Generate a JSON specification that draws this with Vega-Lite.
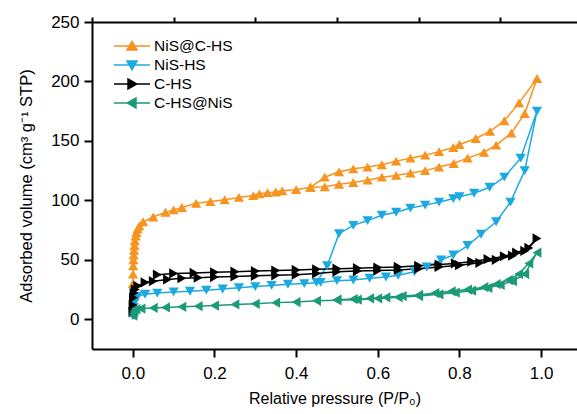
{
"$schema": "https://vega.github.io/schema/vega-lite/v6.json",
"width": 485, "height": 327,
"autosize": {"type": "none"},
"padding": {"left": 92, "top": 22, "right": 0, "bottom": 65},
"background": "white",
"config": {
 "view": {"stroke": null},
 "font": "Liberation Sans",
 "axis": {"grid": false, "domainColor": "black", "domainWidth": 2, "tickColor": "black", "tickWidth": 2, "labelColor": "black", "titleColor": "black", "labelFont": "Liberation Sans", "titleFont": "Liberation Sans", "labelFontSize": 17, "titleFontSize": 16, "titleFontWeight": "normal"}
},
"data": {"values": [
{"s":"NiS@C-HS","i":1,"P":0.0002,"V":30},{"s":"NiS@C-HS","i":2,"P":0.0005,"V":38},{"s":"NiS@C-HS","i":3,"P":0.001,"V":45},{"s":"NiS@C-HS","i":4,"P":0.0015,"V":50},{"s":"NiS@C-HS","i":5,"P":0.002,"V":54},{"s":"NiS@C-HS","i":6,"P":0.003,"V":58},{"s":"NiS@C-HS","i":7,"P":0.004,"V":62},{"s":"NiS@C-HS","i":8,"P":0.005,"V":66},{"s":"NiS@C-HS","i":9,"P":0.007,"V":70},{"s":"NiS@C-HS","i":10,"P":0.009,"V":73},{"s":"NiS@C-HS","i":11,"P":0.012,"V":76},{"s":"NiS@C-HS","i":12,"P":0.016,"V":78.5},{"s":"NiS@C-HS","i":13,"P":0.025,"V":82},{"s":"NiS@C-HS","i":14,"P":0.05,"V":86},{"s":"NiS@C-HS","i":15,"P":0.08,"V":90},{"s":"NiS@C-HS","i":16,"P":0.1,"V":92},{"s":"NiS@C-HS","i":17,"P":0.12,"V":94},{"s":"NiS@C-HS","i":18,"P":0.155,"V":97.5},{"s":"NiS@C-HS","i":19,"P":0.19,"V":99},{"s":"NiS@C-HS","i":20,"P":0.225,"V":100.5},{"s":"NiS@C-HS","i":21,"P":0.26,"V":102.5},{"s":"NiS@C-HS","i":22,"P":0.295,"V":104},{"s":"NiS@C-HS","i":23,"P":0.31,"V":105.5},{"s":"NiS@C-HS","i":24,"P":0.33,"V":106.5},{"s":"NiS@C-HS","i":25,"P":0.35,"V":107},{"s":"NiS@C-HS","i":26,"P":0.366,"V":108},{"s":"NiS@C-HS","i":27,"P":0.4,"V":109},{"s":"NiS@C-HS","i":28,"P":0.435,"V":111},{"s":"NiS@C-HS","i":29,"P":0.47,"V":111.5},{"s":"NiS@C-HS","i":30,"P":0.505,"V":113.5},{"s":"NiS@C-HS","i":31,"P":0.54,"V":115},{"s":"NiS@C-HS","i":32,"P":0.575,"V":117},{"s":"NiS@C-HS","i":33,"P":0.61,"V":119.5},{"s":"NiS@C-HS","i":34,"P":0.645,"V":121},{"s":"NiS@C-HS","i":35,"P":0.68,"V":123},{"s":"NiS@C-HS","i":36,"P":0.716,"V":125},{"s":"NiS@C-HS","i":37,"P":0.75,"V":128},{"s":"NiS@C-HS","i":38,"P":0.786,"V":131},{"s":"NiS@C-HS","i":39,"P":0.82,"V":135.5},{"s":"NiS@C-HS","i":40,"P":0.86,"V":140.5},{"s":"NiS@C-HS","i":41,"P":0.89,"V":146.5},{"s":"NiS@C-HS","i":42,"P":0.927,"V":156.5},{"s":"NiS@C-HS","i":43,"P":0.96,"V":173},{"s":"NiS@C-HS","i":44,"P":0.99,"V":202.5},{"s":"NiS@C-HS","i":45,"P":0.946,"V":182},{"s":"NiS@C-HS","i":46,"P":0.91,"V":167},{"s":"NiS@C-HS","i":47,"P":0.875,"V":158},{"s":"NiS@C-HS","i":48,"P":0.84,"V":152},{"s":"NiS@C-HS","i":49,"P":0.8,"V":147},{"s":"NiS@C-HS","i":50,"P":0.785,"V":144.5},{"s":"NiS@C-HS","i":51,"P":0.75,"V":141},{"s":"NiS@C-HS","i":52,"P":0.716,"V":138},{"s":"NiS@C-HS","i":53,"P":0.68,"V":135.5},{"s":"NiS@C-HS","i":54,"P":0.645,"V":133},{"s":"NiS@C-HS","i":55,"P":0.61,"V":130},{"s":"NiS@C-HS","i":56,"P":0.575,"V":128},{"s":"NiS@C-HS","i":57,"P":0.54,"V":126.5},{"s":"NiS@C-HS","i":58,"P":0.505,"V":124},{"s":"NiS@C-HS","i":59,"P":0.47,"V":119.5},{"s":"NiS@C-HS","i":60,"P":0.435,"V":111},
{"s":"NiS-HS","i":1,"P":0.0002,"V":3},{"s":"NiS-HS","i":2,"P":0.0008,"V":6},{"s":"NiS-HS","i":3,"P":0.002,"V":10},{"s":"NiS-HS","i":4,"P":0.004,"V":14},{"s":"NiS-HS","i":5,"P":0.007,"V":17},{"s":"NiS-HS","i":6,"P":0.012,"V":19.5},{"s":"NiS-HS","i":7,"P":0.03,"V":21},{"s":"NiS-HS","i":8,"P":0.06,"V":22},{"s":"NiS-HS","i":9,"P":0.1,"V":23},{"s":"NiS-HS","i":10,"P":0.14,"V":23.6},{"s":"NiS-HS","i":11,"P":0.18,"V":24.5},{"s":"NiS-HS","i":12,"P":0.22,"V":25.5},{"s":"NiS-HS","i":13,"P":0.26,"V":26.5},{"s":"NiS-HS","i":14,"P":0.3,"V":27.5},{"s":"NiS-HS","i":15,"P":0.34,"V":28.5},{"s":"NiS-HS","i":16,"P":0.38,"V":29.5},{"s":"NiS-HS","i":17,"P":0.42,"V":30},{"s":"NiS-HS","i":18,"P":0.46,"V":31},{"s":"NiS-HS","i":19,"P":0.5,"V":32.5},{"s":"NiS-HS","i":20,"P":0.54,"V":33},{"s":"NiS-HS","i":21,"P":0.58,"V":34.5},{"s":"NiS-HS","i":22,"P":0.62,"V":35.5},{"s":"NiS-HS","i":23,"P":0.65,"V":37},{"s":"NiS-HS","i":24,"P":0.69,"V":40},{"s":"NiS-HS","i":25,"P":0.72,"V":44},{"s":"NiS-HS","i":26,"P":0.755,"V":50},{"s":"NiS-HS","i":27,"P":0.785,"V":54},{"s":"NiS-HS","i":28,"P":0.82,"V":62},{"s":"NiS-HS","i":29,"P":0.853,"V":71.5},{"s":"NiS-HS","i":30,"P":0.89,"V":82},{"s":"NiS-HS","i":31,"P":0.925,"V":98.5},{"s":"NiS-HS","i":32,"P":0.96,"V":125},{"s":"NiS-HS","i":33,"P":0.99,"V":175},{"s":"NiS-HS","i":34,"P":0.95,"V":135.5},{"s":"NiS-HS","i":35,"P":0.91,"V":119.5},{"s":"NiS-HS","i":36,"P":0.874,"V":111},{"s":"NiS-HS","i":37,"P":0.836,"V":106},{"s":"NiS-HS","i":38,"P":0.8,"V":103},{"s":"NiS-HS","i":39,"P":0.785,"V":101.5},{"s":"NiS-HS","i":40,"P":0.75,"V":98.5},{"s":"NiS-HS","i":41,"P":0.716,"V":96},{"s":"NiS-HS","i":42,"P":0.68,"V":93.5},{"s":"NiS-HS","i":43,"P":0.645,"V":90},{"s":"NiS-HS","i":44,"P":0.61,"V":87.5},{"s":"NiS-HS","i":45,"P":0.575,"V":83},{"s":"NiS-HS","i":46,"P":0.54,"V":79},{"s":"NiS-HS","i":47,"P":0.505,"V":72},{"s":"NiS-HS","i":48,"P":0.476,"V":45},{"s":"NiS-HS","i":49,"P":0.45,"V":31},
{"s":"C-HS","i":1,"P":0.0002,"V":6},{"s":"C-HS","i":2,"P":0.0006,"V":12},{"s":"C-HS","i":3,"P":0.0015,"V":18},{"s":"C-HS","i":4,"P":0.003,"V":22},{"s":"C-HS","i":5,"P":0.006,"V":25},{"s":"C-HS","i":6,"P":0.012,"V":28},{"s":"C-HS","i":7,"P":0.03,"V":31},{"s":"C-HS","i":8,"P":0.05,"V":32},{"s":"C-HS","i":9,"P":0.085,"V":33.5},{"s":"C-HS","i":10,"P":0.12,"V":34.5},{"s":"C-HS","i":11,"P":0.16,"V":35},{"s":"C-HS","i":12,"P":0.2,"V":35.5},{"s":"C-HS","i":13,"P":0.25,"V":36},{"s":"C-HS","i":14,"P":0.3,"V":36.5},{"s":"C-HS","i":15,"P":0.35,"V":37},{"s":"C-HS","i":16,"P":0.4,"V":37.5},{"s":"C-HS","i":17,"P":0.45,"V":38.5},{"s":"C-HS","i":18,"P":0.5,"V":40},{"s":"C-HS","i":19,"P":0.55,"V":40.5},{"s":"C-HS","i":20,"P":0.6,"V":41},{"s":"C-HS","i":21,"P":0.65,"V":41.5},{"s":"C-HS","i":22,"P":0.7,"V":42.5},{"s":"C-HS","i":23,"P":0.75,"V":44},{"s":"C-HS","i":24,"P":0.8,"V":45.5},{"s":"C-HS","i":25,"P":0.85,"V":47.5},{"s":"C-HS","i":26,"P":0.89,"V":50},{"s":"C-HS","i":27,"P":0.93,"V":53.5},{"s":"C-HS","i":28,"P":0.96,"V":57.5},{"s":"C-HS","i":29,"P":0.99,"V":68},{"s":"C-HS","i":30,"P":0.97,"V":60},{"s":"C-HS","i":31,"P":0.94,"V":56},{"s":"C-HS","i":32,"P":0.91,"V":53},{"s":"C-HS","i":33,"P":0.87,"V":50.5},{"s":"C-HS","i":34,"P":0.83,"V":48.5},{"s":"C-HS","i":35,"P":0.79,"V":47},{"s":"C-HS","i":36,"P":0.75,"V":46},{"s":"C-HS","i":37,"P":0.7,"V":45},{"s":"C-HS","i":38,"P":0.65,"V":44},{"s":"C-HS","i":39,"P":0.6,"V":43.5},{"s":"C-HS","i":40,"P":0.55,"V":43},{"s":"C-HS","i":41,"P":0.5,"V":42.5},{"s":"C-HS","i":42,"P":0.45,"V":42},{"s":"C-HS","i":43,"P":0.4,"V":41.5},{"s":"C-HS","i":44,"P":0.35,"V":41},{"s":"C-HS","i":45,"P":0.3,"V":40.5},{"s":"C-HS","i":46,"P":0.25,"V":40},{"s":"C-HS","i":47,"P":0.2,"V":39.5},{"s":"C-HS","i":48,"P":0.15,"V":39},{"s":"C-HS","i":49,"P":0.1,"V":38.5},{"s":"C-HS","i":50,"P":0.06,"V":37.5},
{"s":"C-HS@NiS","i":1,"P":0.0002,"V":3},{"s":"C-HS@NiS","i":2,"P":0.001,"V":5},{"s":"C-HS@NiS","i":3,"P":0.003,"V":7},{"s":"C-HS@NiS","i":4,"P":0.008,"V":8.5},{"s":"C-HS@NiS","i":5,"P":0.02,"V":9},{"s":"C-HS@NiS","i":6,"P":0.05,"V":9.5},{"s":"C-HS@NiS","i":7,"P":0.08,"V":10},{"s":"C-HS@NiS","i":8,"P":0.12,"V":10.5},{"s":"C-HS@NiS","i":9,"P":0.16,"V":11},{"s":"C-HS@NiS","i":10,"P":0.2,"V":11.5},{"s":"C-HS@NiS","i":11,"P":0.25,"V":12.5},{"s":"C-HS@NiS","i":12,"P":0.3,"V":13},{"s":"C-HS@NiS","i":13,"P":0.35,"V":14},{"s":"C-HS@NiS","i":14,"P":0.4,"V":14.5},{"s":"C-HS@NiS","i":15,"P":0.45,"V":15.5},{"s":"C-HS@NiS","i":16,"P":0.5,"V":16},{"s":"C-HS@NiS","i":17,"P":0.55,"V":16.5},{"s":"C-HS@NiS","i":18,"P":0.6,"V":17.5},{"s":"C-HS@NiS","i":19,"P":0.65,"V":18.5},{"s":"C-HS@NiS","i":20,"P":0.7,"V":19.5},{"s":"C-HS@NiS","i":21,"P":0.75,"V":21},{"s":"C-HS@NiS","i":22,"P":0.79,"V":22.5},{"s":"C-HS@NiS","i":23,"P":0.83,"V":24},{"s":"C-HS@NiS","i":24,"P":0.87,"V":26.5},{"s":"C-HS@NiS","i":25,"P":0.9,"V":29},{"s":"C-HS@NiS","i":26,"P":0.93,"V":32},{"s":"C-HS@NiS","i":27,"P":0.96,"V":38},{"s":"C-HS@NiS","i":28,"P":0.99,"V":56},{"s":"C-HS@NiS","i":29,"P":0.97,"V":47},{"s":"C-HS@NiS","i":30,"P":0.945,"V":38},{"s":"C-HS@NiS","i":31,"P":0.92,"V":33},{"s":"C-HS@NiS","i":32,"P":0.89,"V":29.5},{"s":"C-HS@NiS","i":33,"P":0.86,"V":27},{"s":"C-HS@NiS","i":34,"P":0.82,"V":25},{"s":"C-HS@NiS","i":35,"P":0.78,"V":23.5},{"s":"C-HS@NiS","i":36,"P":0.74,"V":22},{"s":"C-HS@NiS","i":37,"P":0.7,"V":20.5},{"s":"C-HS@NiS","i":38,"P":0.66,"V":19.5},{"s":"C-HS@NiS","i":39,"P":0.62,"V":18.5},{"s":"C-HS@NiS","i":40,"P":0.58,"V":17.5},{"s":"C-HS@NiS","i":41,"P":0.54,"V":17},{"s":"C-HS@NiS","i":42,"P":0.5,"V":16.5}
]},
"layer": [
 {
  "mark": {"type": "line", "strokeWidth": 1.5, "clip": true},
  "encoding": {
   "x": {"field": "P", "type": "quantitative", "scale": {"domain": [-0.1, 1.088], "nice": false, "zero": false},
         "axis": {"values": [0, 0.2, 0.4, 0.6, 0.8, 1.0], "format": ".1f", "tickSize": 8, "labelPadding": 8, "title": "Relative pressure (P/P₀)", "titlePadding": 9}},
   "y": {"field": "V", "type": "quantitative", "scale": {"domain": [-25, 250], "nice": false, "zero": false},
         "axis": {"values": [0, 50, 100, 150, 200, 250], "tickSize": 8, "labelPadding": 5, "title": "Adsorbed volume (cm³ g⁻¹ STP)", "titleFontSize": 16.5, "titlePadding": 16}},
   "color": {"field": "s", "type": "nominal", "scale": {"domain": ["NiS@C-HS", "NiS-HS", "C-HS", "C-HS@NiS"], "range": ["#F7931E", "#1BA9E0", "#000000", "#1B9A77"]}, "legend": null},
   "order": {"field": "i", "type": "quantitative"}
  }
 },
 {
  "mark": {"type": "point", "filled": true, "size": 105, "opacity": 1, "clip": true},
  "encoding": {
   "x": {"field": "P", "type": "quantitative", "axis": {"values": [-0.1, 0.1, 0.3, 0.5, 0.7, 0.9], "tickSize": 5, "labels": false, "domain": false, "title": null}},
   "y": {"field": "V", "type": "quantitative", "axis": {"values": [-25, 25, 75, 125, 175, 225], "tickSize": 5, "labels": false, "domain": false, "title": null}},
   "color": {"field": "s", "type": "nominal", "legend": null},
   "shape": {"field": "s", "type": "nominal", "scale": {"domain": ["NiS@C-HS", "NiS-HS", "C-HS", "C-HS@NiS"], "range": ["triangle-up", "triangle-down", "triangle-right", "triangle-left"]}, "legend": null}
  }
 },
 {
  "transform": [{"filter": "datum.P > 5"}],
  "mark": {"type": "point", "filled": true, "size": 324, "strokeWidth": 1.5, "opacity": 1},
  "encoding": {
   "x": {"field": "P", "type": "quantitative", "axis": {"orient": "top", "ticks": false, "labels": false, "title": null}},
   "fill": {"field": "s", "type": "nominal", "scale": {"domain": ["NiS@C-HS", "NiS-HS", "C-HS", "C-HS@NiS"], "range": ["#F7931E", "#1BA9E0", "#000000", "#1B9A77"]},
            "legend": {"orient": "none", "legendX": 30, "legendY": 14, "title": null, "labelFontSize": 15.5, "labelFont": "Liberation Sans", "labelColor": "black", "symbolSize": 324, "symbolStrokeWidth": 1.5, "symbolOpacity": 1, "rowPadding": 0, "labelOffset": 12, "padding": 0}},
   "stroke": {"field": "s", "type": "nominal", "scale": {"domain": ["NiS@C-HS", "NiS-HS", "C-HS", "C-HS@NiS"], "range": ["#F7931E", "#1BA9E0", "#000000", "#1B9A77"]},
            "legend": {"orient": "none", "legendX": 30, "legendY": 14, "title": null, "labelFontSize": 15.5, "labelFont": "Liberation Sans", "labelColor": "black", "symbolSize": 324, "symbolStrokeWidth": 1.5, "symbolOpacity": 1, "rowPadding": 0, "labelOffset": 12, "padding": 0}},
   "shape": {"field": "s", "type": "nominal", "scale": {"domain": ["NiS@C-HS", "NiS-HS", "C-HS", "C-HS@NiS"], "range": ["M-2,0H2M0,-0.52L0.56,0.44L-0.56,0.44Z", "M-2,0H2M0,0.52L0.56,-0.44L-0.56,-0.44Z", "M-2,0H2M0.52,0L-0.44,-0.56L-0.44,0.56Z", "M-2,0H2M-0.52,0L0.44,-0.56L0.44,0.56Z"]},
            "legend": {"orient": "none", "legendX": 30, "legendY": 14, "title": null, "labelFontSize": 15.5, "labelFont": "Liberation Sans", "labelColor": "black", "symbolSize": 324, "symbolStrokeWidth": 1.5, "symbolOpacity": 1, "rowPadding": 0, "labelOffset": 12, "padding": 0}}
  }
 }
],
"resolve": {"axis": {"x": "independent", "y": "independent"}, "scale": {"shape": "independent", "fill": "independent", "stroke": "independent"}}
}
